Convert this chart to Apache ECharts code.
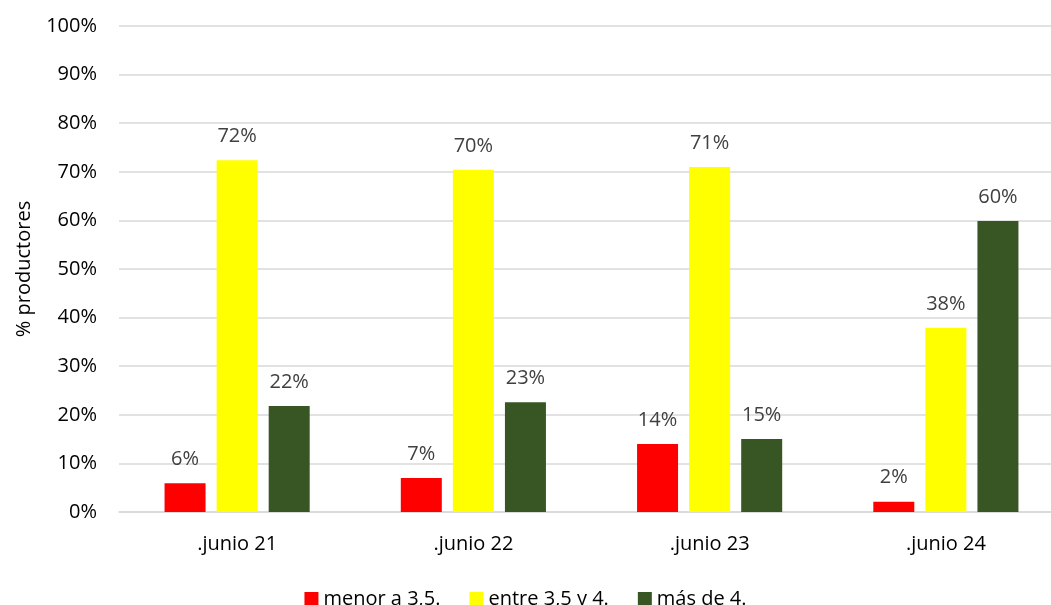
<!DOCTYPE html>
<html><head><meta charset="utf-8">
<script src="https://cdn.jsdelivr.net/npm/echarts@6/dist/echarts.min.js"></script>
<style>html,body{margin:0;padding:0;background:#fff;overflow:hidden}#c{width:1051px;height:605px}</style>
</head><body><div id="c"></div>
<script>
var categories = ['.junio 21', '.junio 22', '.junio 23', '.junio 24'];
var seriesNames = ['menor a 3,5.', 'entre 3,5 y 4.', 'más de 4.'];
var menor = [5.9, 7.0, 14.0, 2.1];
var entre = [72.4, 70.4, 71.0, 37.9];
var mas = [21.8, 22.6, 15.0, 59.9];
var colors = ['#ff0000', '#ffff00', '#375623'];
var yTicks = [0, 10, 20, 30, 40, 50, 60, 70, 80, 90, 100];

var font = 'Open Sans, Noto Sans, sans-serif';
function mk(name, data, color) {
  return {
    name: name, type: 'bar', data: data, barWidth: 41, barGap: '27%',
    itemStyle: { color: color },
    label: { show: true, position: 'top', distance: 14, color: '#404040', fontSize: 20, fontFamily: font,
      formatter: function (p) { return Math.round(p.value) + '%'; } }
  };
}
var chart = echarts.init(document.getElementById('c'));
chart.setOption({
  animation: false,
  grid: { left: 119, right: -13, top: 26, bottom: 93, outerBoundsMode: 'none', containLabel: false },
  legend: {
    top: 584, left: 'center', itemWidth: 14, itemHeight: 14, itemGap: 29, icon: 'rect',
    textStyle: { fontSize: 20, color: '#000', fontFamily: font },
    data: seriesNames
  },
  xAxis: {
    type: 'category', data: categories,
    axisLine: { lineStyle: { color: '#d9d9d9', width: 1.5 } },
    axisTick: { show: false },
    axisLabel: { fontSize: 20, color: '#000', margin: 22, fontFamily: font }
  },
  yAxis: {
    type: 'value', min: yTicks[0], max: yTicks[yTicks.length - 1], interval: 10,
    name: '% productores', nameLocation: 'middle', nameGap: 85, nameRotate: 90,
    nameTextStyle: { fontSize: 20, color: '#000', fontFamily: font },
    axisLine: { show: false }, axisTick: { show: false },
    splitLine: { lineStyle: { color: '#d9d9d9', width: 1.5 } },
    axisLabel: { fontSize: 20, color: '#000', margin: 22, fontFamily: font, formatter: '{value}%' }
  },
  series: [mk(seriesNames[0], menor, colors[0]), mk(seriesNames[1], entre, colors[1]), mk(seriesNames[2], mas, colors[2])]
});
</script></body></html>
